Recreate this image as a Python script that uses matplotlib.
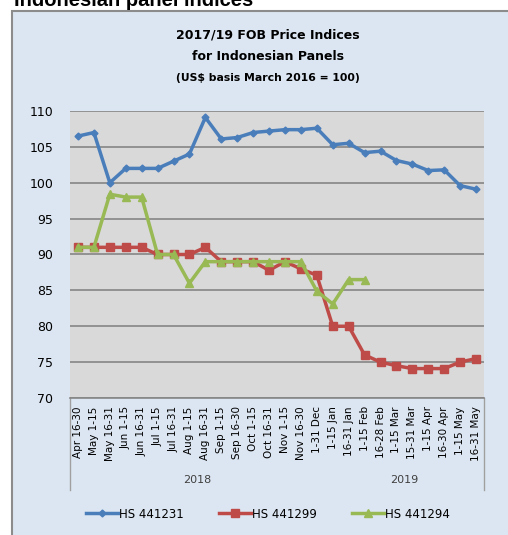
import numpy as np
import matplotlib
matplotlib.use("Agg")
import matplotlib.pyplot as plt
from matplotlib.patches import Rectangle

# data
periods = ["Apr 16-30", "May 1-15", "May 16-31", "Jun 1-15", "Jun 16-31",
           "Jul 1-15", "Jul 16-31", "Aug 1-15", "Aug 16-31", "Sep 1-15",
           "Sep 16-30", "Oct 1-15", "Oct 16-31", "Nov 1-15", "Nov 16-30",
           "1-31 Dec", "1-15 Jan", "16-31 Jan", "1-15 Feb", "16-28 Feb",
           "1-15 Mar", "15-31 Mar", "1-15 Apr", "16-30 Apr", "1-15 May",
           "16-31 May"]
years = ["2018", "2019"]
year_sizes = [16, 10]

hs441231 = [106.5, 107.0, 100.0, 102.0, 102.0, 102.0, 103.0, 104.0, 109.1,
            106.1, 106.3, 107.0, 107.2, 107.4, 107.4, 107.6, 105.3, 105.5,
            104.2, 104.4, 103.1, 102.6, 101.7, 101.8, 99.6, 99.1]
hs441299 = [91.0, 91.0, 91.0, 91.0, 91.0, 90.0, 90.0, 90.0, 91.0, 89.0,
            89.0, 89.0, 87.8, 89.0, 88.0, 87.1, 80.0, 80.0, 76.0, 75.0,
            74.5, 74.1, 74.1, 74.1, 75.0, 75.5]
hs441294 = [91.0, 91.0, 98.4, 98.0, 98.0, 90.0, 90.0, 86.0, 89.0, 89.0,
            89.0, 89.0, 89.0, 89.0, 89.0, 84.9, 83.1, 86.5, 86.5]

W, H = 508, 535
fig = plt.figure(figsize=(W / 100, H / 100), dpi=100, facecolor="white")

# light blue chart frame, running off the right and bottom edges
frame = Rectangle((12 / W, -0.5), 1.5, 1.5 - 11 / H, transform=fig.transFigure,
                  facecolor="#dce6f2", edgecolor="#8c8c8c", linewidth=1.5,
                  zorder=-5)
fig.patches.append(frame)

# heading of the page, partly cut at the top edge as in the reference
fig.text(14 / W, 1 - 6 / H, "Indonesian panel indices", fontsize=14.5,
         fontweight="bold", family="Liberation Sans", va="baseline")

title_fam = ["Liberation Sans Narrow", "DejaVu Sans"]
fig.text(268 / W, 1 - 35 / H, "2017/19 FOB Price Indices", ha="center",
         va="center", fontsize=9, fontweight="bold", family=title_fam)
fig.text(268 / W, 1 - 57 / H, "for Indonesian Panels", ha="center",
         va="center", fontsize=9, fontweight="bold", family=title_fam)
fig.text(268 / W, 1 - 78 / H, "(US$ basis March 2016 = 100)", ha="center",
         va="center", fontsize=7.8, fontweight="bold", family=title_fam)

ax = fig.add_axes([70 / W, 1 - 398 / H, 414 / W, 287 / H])
ax.set_facecolor("#d9d9d9")

x = np.arange(len(periods))
ax.plot(x, hs441231, color="#4a7ebb", lw=2.5, marker="D", ms=3.5,
        label="HS 441231", zorder=3)
ax.plot(x, hs441299, color="#be4b48", lw=2.5, marker="s", ms=5.5,
        label="HS 441299", zorder=3)
ax.plot(np.arange(len(hs441294)), hs441294, color="#98b954", lw=2.5,
        marker="^", ms=5.5, label="HS 441294", zorder=4)

ax.set_xlim(-0.5, len(periods) - 0.5)
ax.set_ylim(70, 110)
ax.set_yticks(np.arange(70, 111, 5))
ax.grid(axis="y", color="#868686", lw=1.2)
ax.set_axisbelow(True)
for side in ["left", "right", "top"]:
    ax.spines[side].set_visible(False)
ax.spines["bottom"].set_color("#868686")
ax.spines["bottom"].set_linewidth(1.2)
ax.tick_params(axis="y", length=0, pad=12, labelsize=9)
ax.set_xticks(x)
ax.set_xticklabels(periods, rotation=90, fontsize=7.5, family="DejaVu Sans")
ax.tick_params(axis="x", length=0, pad=6)

# year group labels and edge lines under the axis
tr = ax.get_xaxis_transform()
ax.plot([-0.5, -0.5], [0, -0.32], transform=tr, color="#a0a0a0", lw=1,
        clip_on=False)
ax.plot([len(periods) - 0.5] * 2, [0, -0.32], transform=tr, color="#a0a0a0",
        lw=1, clip_on=False)
start = 0
for yr, n in zip(years, year_sizes):
    ax.text(start + (n - 1) / 2, -0.285, yr, transform=tr, ha="center",
            va="center", fontsize=8, color="#404040")
    start += n

fig.legend(loc="center", bbox_to_anchor=(268 / W, 1 - 514 / H), ncol=3,
           frameon=False, fontsize=8.5, handlelength=2.7, handletextpad=0.1,
           columnspacing=3.0)

fig.savefig("out.png", dpi=100)
